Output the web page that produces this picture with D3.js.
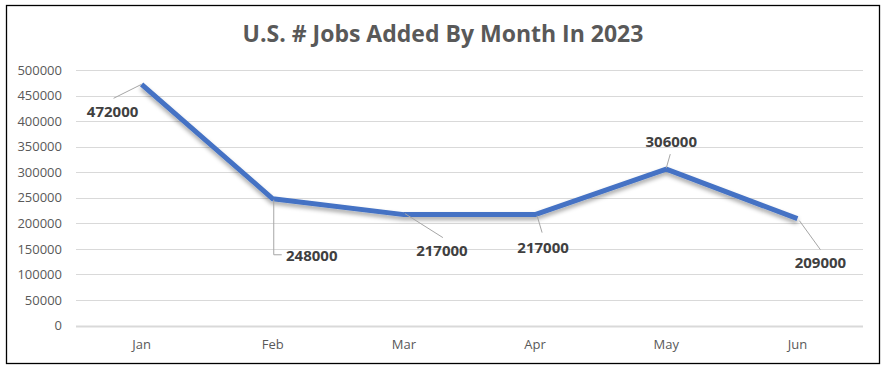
<!DOCTYPE html>
<html>
<head>
<meta charset="utf-8">
<script src="https://cdn.jsdelivr.net/npm/d3@7"></script>
<style>
  body { margin: 0; background: #fff; }
  text { font-family: "Open Sans", "Noto Sans", sans-serif; }
</style>
</head>
<body>
<div id="chart"></div>
<script>
// data
const months = ["Jan", "Feb", "Mar", "Apr", "May", "Jun"];
const jobsAdded = [472000, 248000, 217000, 217000, 306000, 209000];
const yTicks = [0, 50000, 100000, 150000, 200000, 250000, 300000, 350000, 400000, 450000, 500000];

// label placement relative to each point (dx, dy of label baseline center) and leader lines
const labelOffsets = [[-29, 33], [39, 62], [38, 41], [8, 38], [5, -22], [23, 49]];
const leaders = [
  [[0, 0], [-28, 14]],
  [[1, 1], [1, 56], [9, 56]],
  [[1, -1], [39, 23]],
  [[2, 1], [7, 18]],
  [[0, -1], [4, -15]],
  [[2, 2], [23, 31]]
];

const width = 887, height = 368;
const margin = {top: 70, right: 24, bottom: 42, left: 76};

const svg = d3.select("#chart").append("svg")
  .attr("width", width)
  .attr("height", height);

// drop shadow for the line
const filter = svg.append("defs").append("filter")
  .attr("id", "shadow")
  .attr("x", "-10%").attr("y", "-20%")
  .attr("width", "120%").attr("height", "160%");
filter.append("feDropShadow")
  .attr("dx", 0).attr("dy", 3)
  .attr("stdDeviation", 2)
  .attr("flood-color", "#000")
  .attr("flood-opacity", 0.35);

// outer border
svg.append("rect")
  .attr("x", 6.5).attr("y", 5.5)
  .attr("width", 873).attr("height", 358)
  .attr("fill", "#fff")
  .attr("stroke", "#000")
  .attr("stroke-width", 1.3);

svg.append("text")
  .attr("x", 443)
  .attr("y", 42)
  .attr("text-anchor", "middle")
  .attr("font-size", 23)
  .attr("font-weight", "bold")
  .attr("fill", "#595959")
  .text("U.S. # Jobs Added By Month In 2023");

const x = d3.scaleBand()
  .domain(months)
  .range([margin.left, width - margin.right]);

const y = d3.scaleLinear()
  .domain([0, 500000])
  .range([325.5, 70]);

// gridlines
svg.append("g")
  .selectAll("line")
  .data(yTicks)
  .join("line")
  .attr("x1", margin.left)
  .attr("x2", width - margin.right)
  .attr("y1", d => Math.round(y(d)) + 0.5)
  .attr("y2", d => Math.round(y(d)) + 0.5)
  .attr("stroke", "#d9d9d9")
  .attr("stroke-width", d => d === 0 ? 2 : 1);

// y axis labels
const yAxis = svg.append("g")
  .attr("transform", "translate(" + margin.left + ",0)")
  .call(d3.axisLeft(y).tickValues(yTicks).tickFormat(d3.format("d")).tickSize(0).tickPadding(14));
yAxis.select(".domain").remove();
yAxis.selectAll("text")
  .attr("font-family", "Open Sans")
  .attr("font-size", 13)
  .attr("fill", "#595959");

// x axis labels
const xAxis = svg.append("g")
  .attr("transform", "translate(0," + y(0) + ")")
  .call(d3.axisBottom(x).tickSize(0).tickPadding(14));
xAxis.select(".domain").remove();
xAxis.selectAll("text")
  .attr("font-family", "Open Sans")
  .attr("font-size", 13)
  .attr("fill", "#595959");

const cx = (d, i) => x(months[i]) + x.bandwidth() / 2;

const line = d3.line()
  .x((d, i) => cx(d, i))
  .y(d => y(d));

svg.append("path")
  .datum(jobsAdded)
  .attr("d", line)
  .attr("fill", "none")
  .attr("stroke", "#4472c4")
  .attr("stroke-width", 5)
  .attr("stroke-linejoin", "round")
  .attr("filter", "url(#shadow)");

// leader lines
svg.append("g")
  .selectAll("polyline")
  .data(jobsAdded)
  .join("polyline")
  .attr("points", (d, i) => leaders[i].map(p => [cx(d, i) + p[0], y(d) + p[1]].join(",")).join(" "))
  .attr("fill", "none")
  .attr("stroke", "#a6a6a6")
  .attr("stroke-width", 1);

// data labels
svg.append("g")
  .selectAll("text")
  .data(jobsAdded)
  .join("text")
  .attr("x", (d, i) => cx(d, i) + labelOffsets[i][0])
  .attr("y", (d, i) => y(d) + labelOffsets[i][1])
  .attr("text-anchor", "middle")
  .attr("font-size", 15)
  .attr("font-weight", "bold")
  .attr("fill", "#404040")
  .text(d => d);
</script>
</body>
</html>
